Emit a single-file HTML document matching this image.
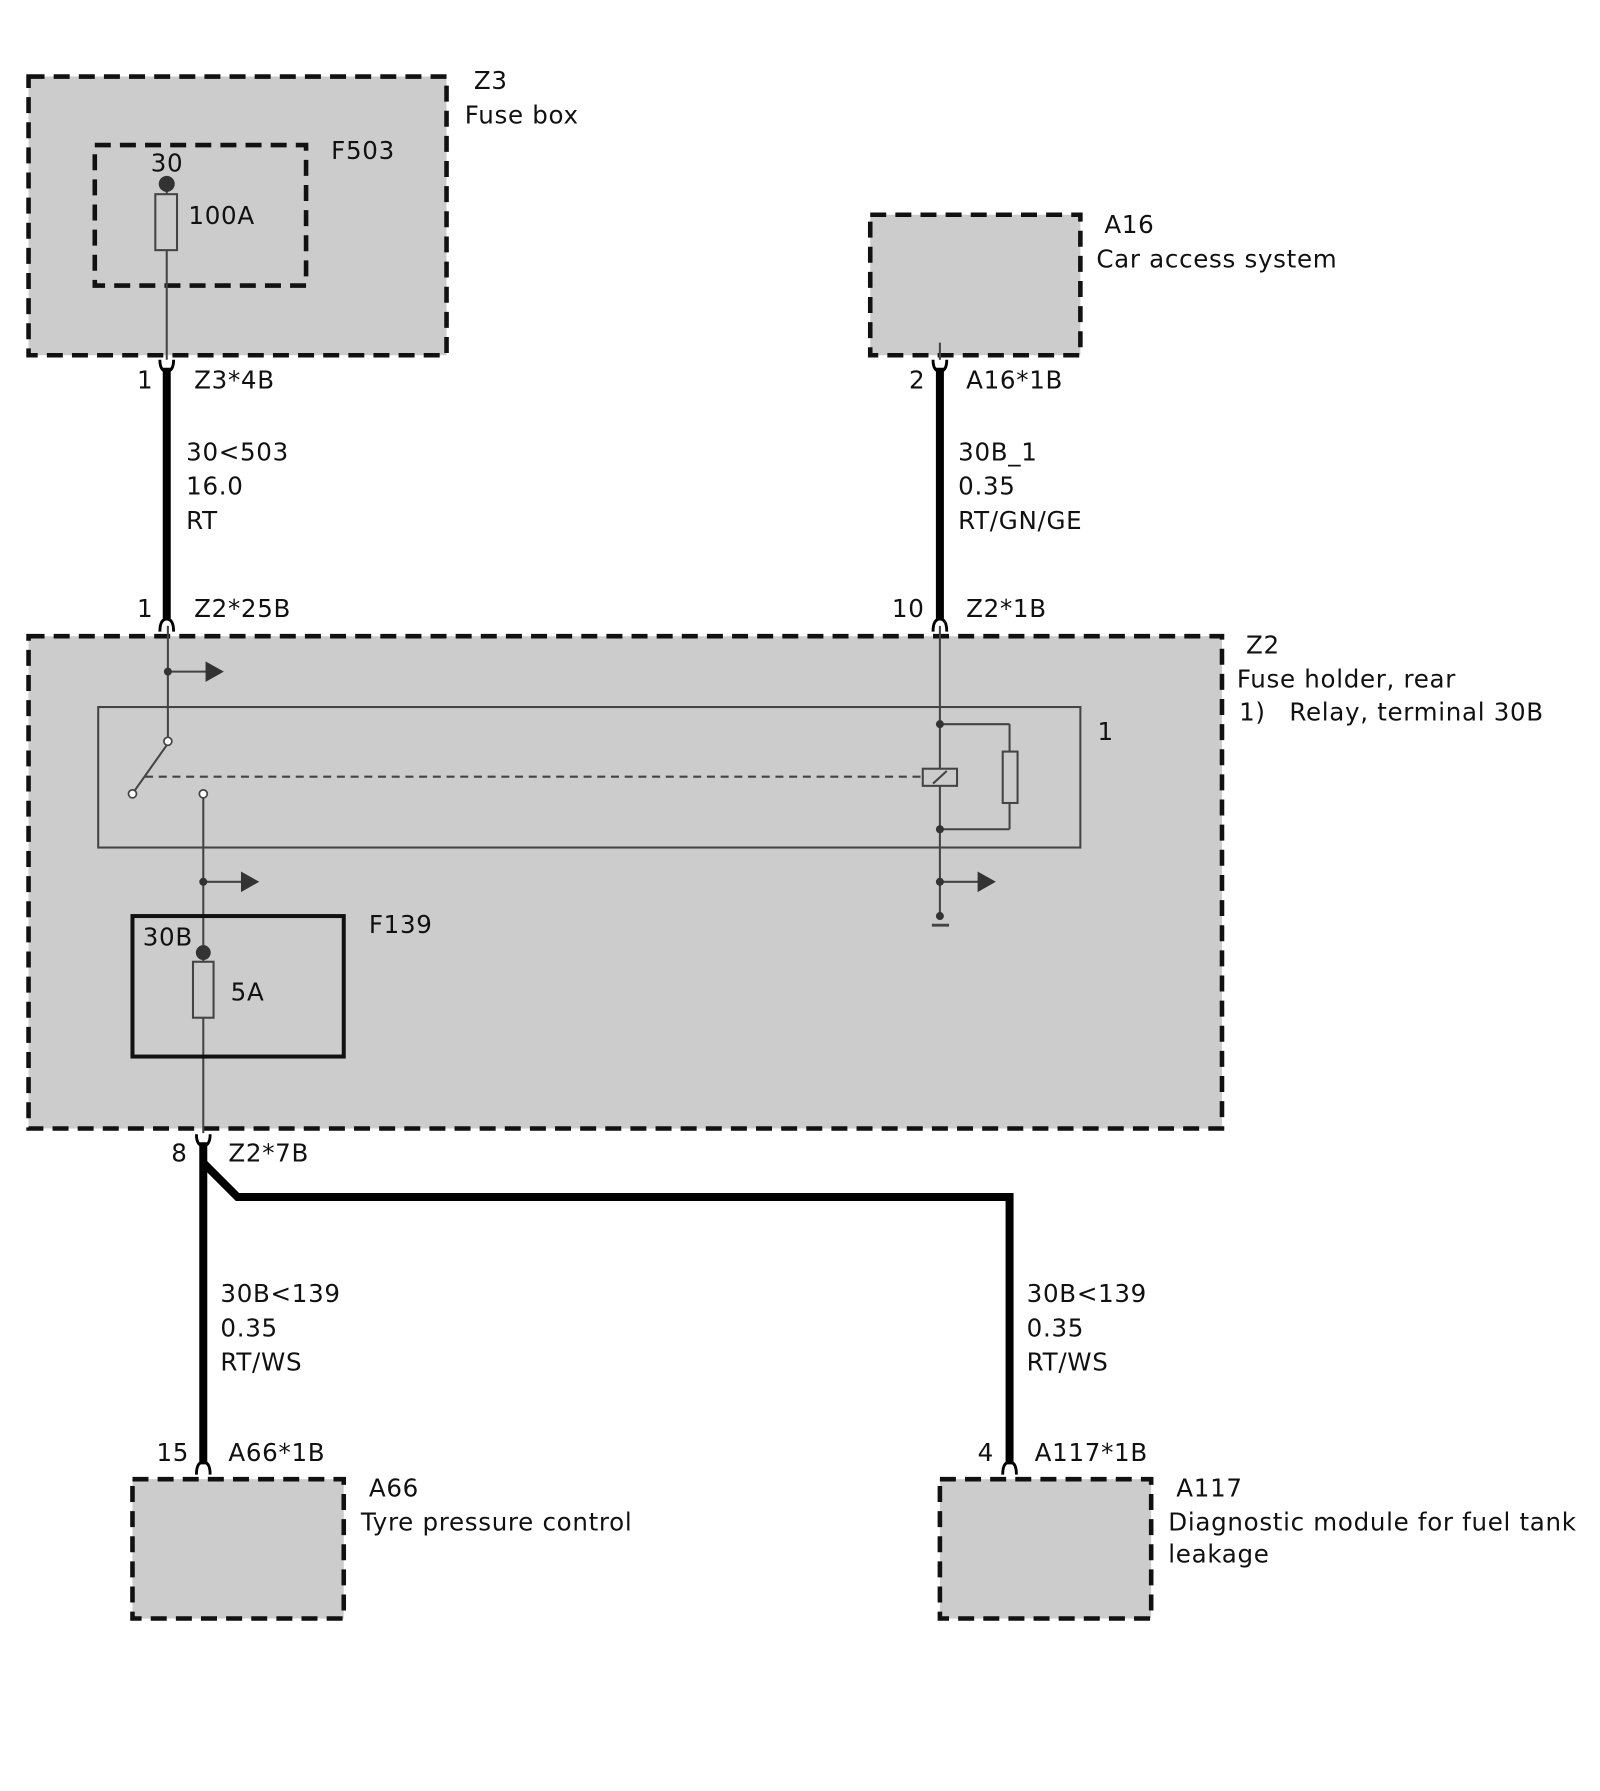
<!DOCTYPE html>
<html><head><meta charset="utf-8"><style>
html,body{margin:0;padding:0;background:#fff;}
svg{display:block;}
text{font-family:"DejaVu Sans","Liberation Sans",sans-serif;font-size:21.5px;letter-spacing:0.6px;fill:#111;}
</style></head><body>
<svg width="1600" height="1791" viewBox="0 0 1401 1568" preserveAspectRatio="none" xmlns="http://www.w3.org/2000/svg">
<rect width="1412" height="1581" fill="#fff"/>
<g stroke="#111" stroke-width="4" stroke-dasharray="14,8" fill="#cccccc">
<rect x="25" y="67" width="366" height="244"/>
<rect x="762" y="188" width="184" height="123"/>
<rect x="25" y="557" width="1045" height="431"/>
<rect x="116" y="1295" width="185" height="122"/>
<rect x="823" y="1295" width="185" height="122"/>
<rect x="83" y="127" width="185" height="123" fill="none"/>
</g>
<g stroke="#444" stroke-width="1.8" fill="none">
<line x1="146" y1="161" x2="146" y2="315"/>
<line x1="823" y1="300" x2="823" y2="315"/>
<rect x="136" y="170" width="19" height="49" fill="#ccc"/>
<line x1="147" y1="548" x2="147" y2="648"/>
<line x1="147" y1="588" x2="182" y2="588"/>
<line x1="147" y1="651" x2="118" y2="692"/>
<line x1="178" y1="698" x2="178" y2="992"/>
<line x1="178" y1="772" x2="212" y2="772"/>
<line x1="823" y1="548" x2="823" y2="802"/>
<line x1="823" y1="634" x2="884" y2="634"/>
<line x1="823" y1="726" x2="884" y2="726"/>
<line x1="884" y1="634" x2="884" y2="726"/>
<rect x="878" y="658" width="13" height="45" fill="#ccc"/>
<rect x="808" y="673" width="30" height="15" fill="#ccc"/>
<line x1="817" y1="686" x2="829" y2="675"/>
<line x1="823" y1="772" x2="858" y2="772"/>
<line x1="816" y1="810" x2="831" y2="810" stroke-width="2.5"/>
<line x1="127" y1="680" x2="808" y2="680" stroke-dasharray="7,5"/>
<rect x="86" y="619" width="860" height="123"/>
<rect x="169" y="842" width="18" height="49" fill="#ccc"/>
</g>
<rect x="116" y="802" width="185" height="123" fill="none" stroke="#111" stroke-width="3.5"/>
<g fill="#fff" stroke="#444" stroke-width="1.5">
<circle cx="147" cy="649" r="3.5"/><circle cx="116" cy="695" r="3.5"/><circle cx="178" cy="695" r="3.5"/>
</g>
<g fill="#333">
<circle cx="146" cy="161" r="7"/><circle cx="178" cy="834" r="6.5"/>
<circle cx="147" cy="588" r="3.5"/><circle cx="178" cy="772" r="3.5"/>
<circle cx="823" cy="634" r="3.5"/><circle cx="823" cy="726" r="3.5"/><circle cx="823" cy="772" r="3.5"/><circle cx="823" cy="802" r="3.5"/>
<polygon points="180,579 196,588 180,597"/>
<polygon points="211,763 227,772 211,781"/>
<polygon points="856,763 872,772 856,781"/>
</g>
<g stroke="#000" stroke-width="7" fill="none">
<line x1="146" y1="322" x2="146" y2="542"/>
<line x1="823" y1="322" x2="823" y2="542"/>
<line x1="178" y1="1000" x2="178" y2="1282"/>
<polyline points="178,1018 208,1048 884,1048 884,1282"/>
</g>
<g stroke="#000" stroke-width="2.5" fill="none">
<path d="M140,315 Q140,325 146,325 Q152,325 152,315"/>
<path d="M817,315 Q817,325 823,325 Q829,325 829,315"/>
<path d="M140,553 Q140,542 146,542 Q152,542 152,553"/>
<path d="M817,553 Q817,542 823,542 Q829,542 829,553"/>
<path d="M172,993 Q172,1003 178,1003 Q184,1003 184,993"/>
<path d="M172,1291 Q172,1280 178,1280 Q184,1280 184,1291"/>
<path d="M878,1291 Q878,1280 884,1280 Q890,1280 890,1291"/>
</g>
<text x="415" y="78">Z3</text><text x="407" y="108">Fuse box</text>
<text x="290" y="139">F503</text><text x="132" y="150">30</text><text x="165" y="196">100A</text>
<text x="967" y="204">A16</text><text x="960" y="234">Car access system</text>
<text x="120" y="340">1</text><text x="170" y="340">Z3*4B</text>
<text x="163" y="403">30&lt;503</text><text x="163" y="433">16.0</text><text x="163" y="463">RT</text>
<text x="796" y="340">2</text><text x="846" y="340">A16*1B</text>
<text x="839" y="403">30B_1</text><text x="839" y="433">0.35</text><text x="839" y="463">RT/GN/GE</text>
<text x="120" y="540">1</text><text x="170" y="540">Z2*25B</text>
<text x="781" y="540">10</text><text x="846" y="540">Z2*1B</text>
<text x="1091" y="572">Z2</text><text x="1083" y="602">Fuse holder, rear</text>
<text x="1085" y="631">1)</text><text x="1129" y="631">Relay, terminal 30B</text>
<text x="961" y="648">1</text>
<text x="323" y="817">F139</text><text x="125" y="828">30B</text><text x="202" y="876">5A</text>
<text x="150" y="1017">8</text><text x="200" y="1017">Z2*7B</text>
<text x="193" y="1140">30B&lt;139</text><text x="193" y="1170">0.35</text><text x="193" y="1200">RT/WS</text>
<text x="899" y="1140">30B&lt;139</text><text x="899" y="1170">0.35</text><text x="899" y="1200">RT/WS</text>
<text x="137" y="1279">15</text><text x="200" y="1279">A66*1B</text>
<text x="856" y="1279">4</text><text x="906" y="1279">A117*1B</text>
<text x="323" y="1310">A66</text><text x="316" y="1340">Tyre pressure control</text>
<text x="1030" y="1310">A117</text><text x="1023" y="1340">Diagnostic module for fuel tank</text><text x="1023" y="1368">leakage</text>
</svg>
</body></html>
